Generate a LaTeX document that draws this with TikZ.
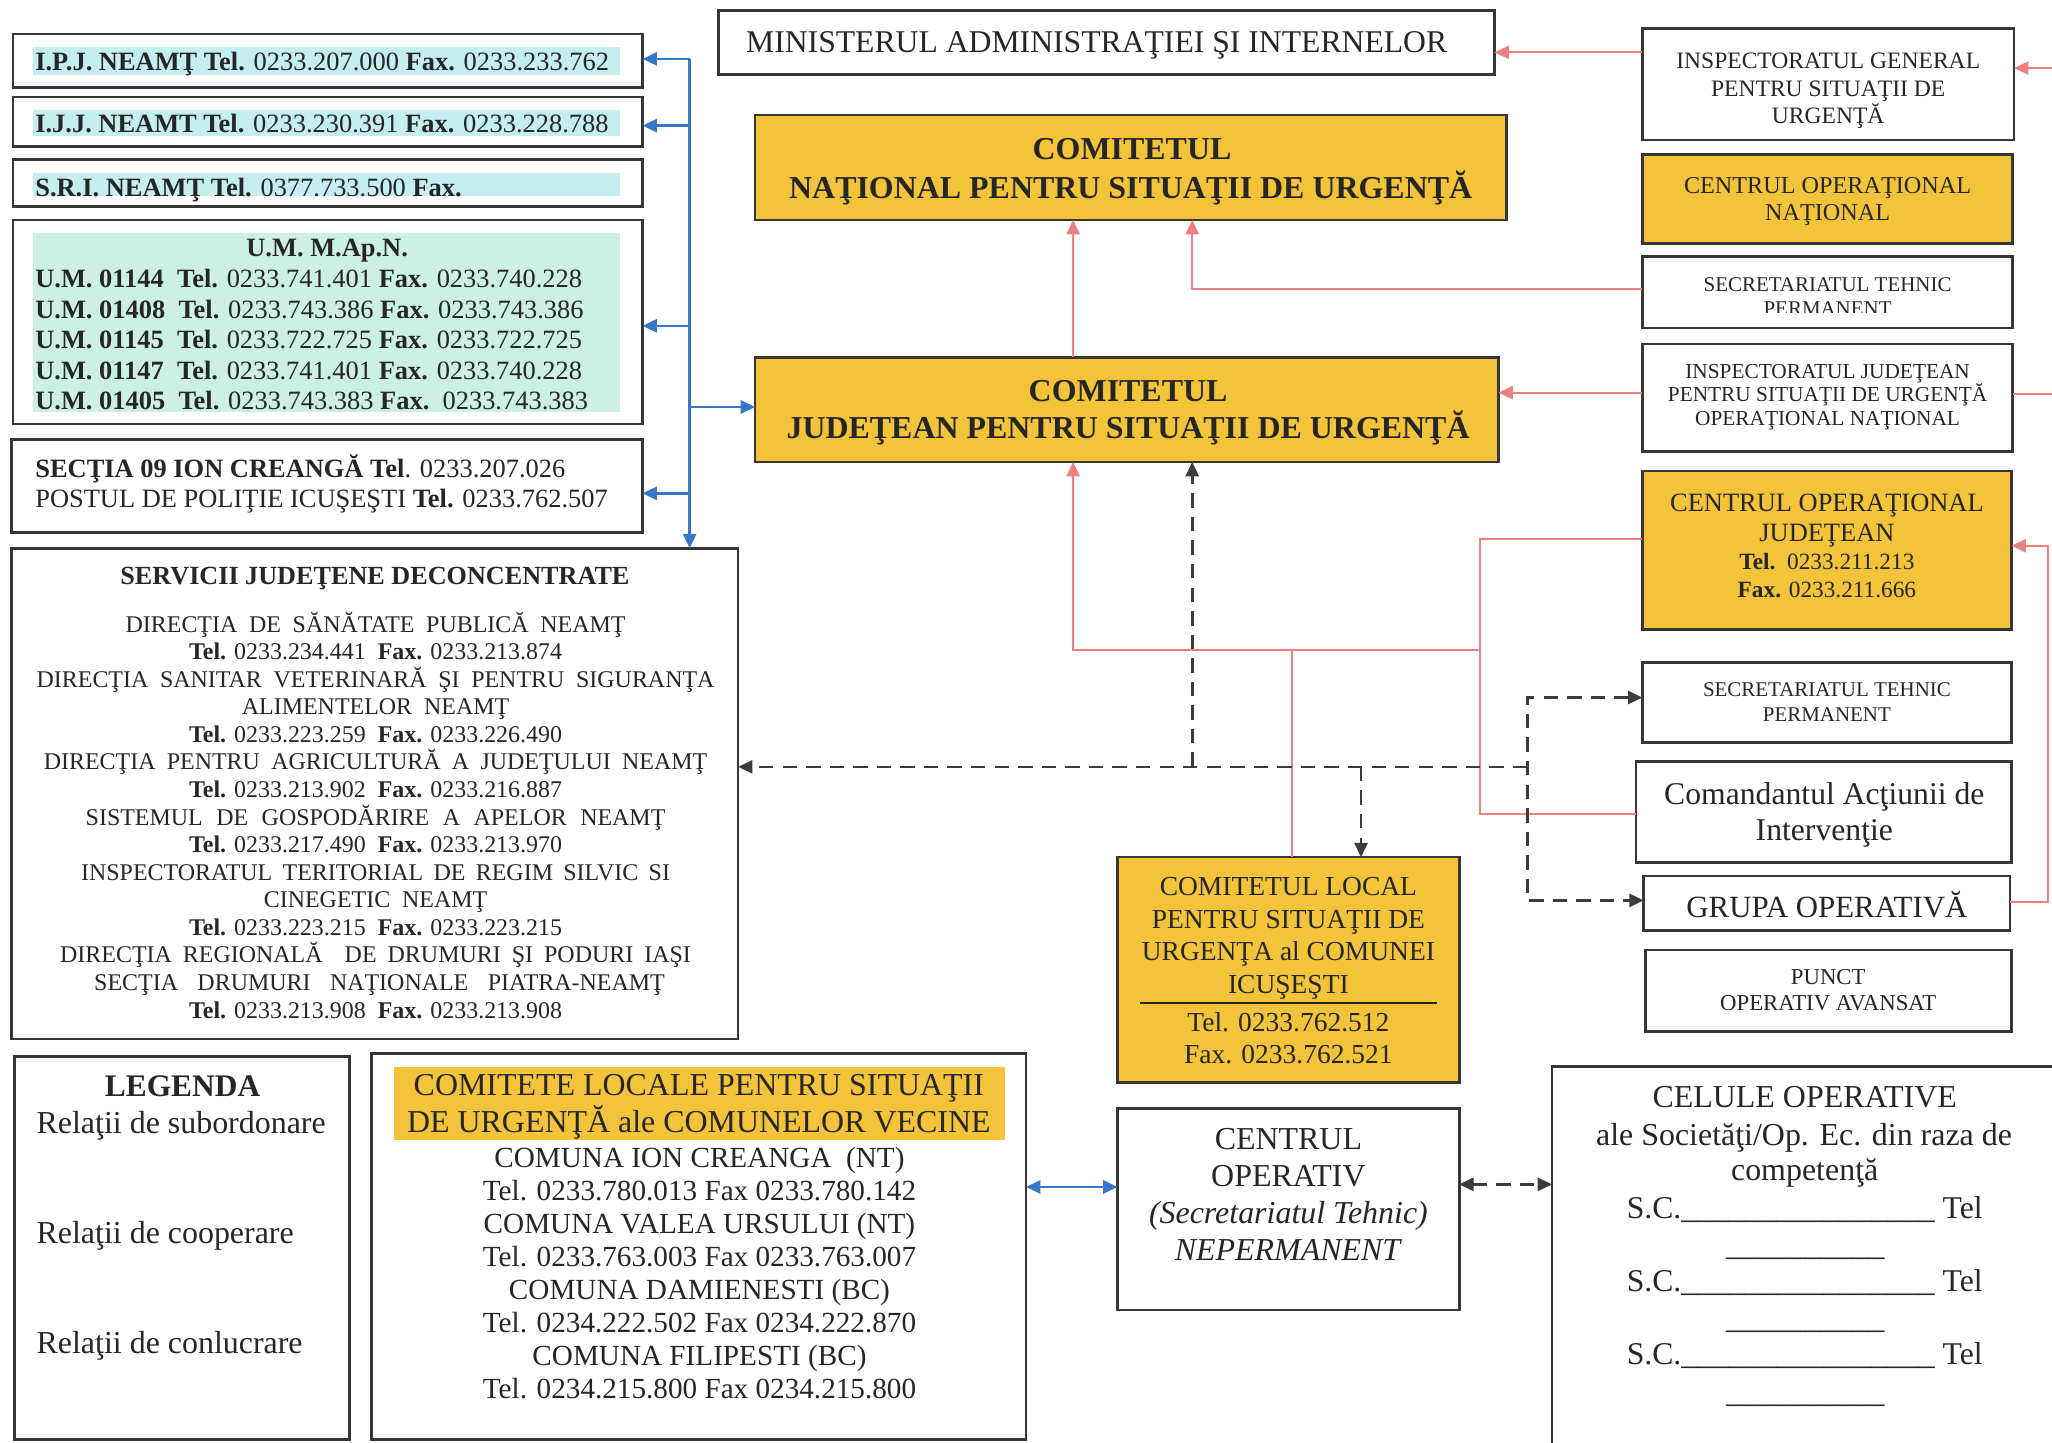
\documentclass[tikz,border=0pt]{standalone}
\usepackage{fontspec}
\setmainfont{Liberation Serif}
\usetikzlibrary{arrows.meta}
\definecolor{yel}{RGB}{243,195,58}
\definecolor{cyanhl}{RGB}{196,238,240}
\definecolor{umhl}{RGB}{204,240,228}
\definecolor{redc}{RGB}{238,128,130}
\definecolor{bluec}{RGB}{58,118,200}
\definecolor{dashc}{RGB}{60,60,60}
\definecolor{txtc}{RGB}{38,38,38}
\definecolor{bordc}{RGB}{55,55,55}
\newcommand\fs[1]{\fontsize{#1}{#1}\selectfont}
\newcommand\tline[4][]{\node[tl,#1] (#2) at (#3) {#4};}
\newcommand\boxn[6][]{\node[box,#1,minimum width={(#5-#3)*1pt},minimum height={(#6-#4)*1pt}] (#2) at ({(#3+#5)/2},{(#4+#6)/2}) {};}
\newcommand\usc{\_\_\_\_\_\_\_\_\_\_}
\begin{document}
\begin{tikzpicture}[x=1pt,y=-1pt,
  box/.style={draw=bordc,line width=2pt,inner sep=0pt,outer sep=0pt},
  ybox/.style={fill=yel},
  tl/.style={anchor=base,inner sep=0pt,outer sep=0pt,text=txtc},
  leftal/.style={anchor=base west},
  >={Triangle[length=11pt,width=10pt]},
  rl/.style={draw=redc,line width=1.6pt},
  bl/.style={draw=bluec,line width=2pt},
  dl/.style={draw=dashc,line width=2pt,dash pattern=on 11pt off 7pt}]
\useasboundingbox (0,0) rectangle (1568,1102);
\clip (0,0) rectangle (1568,1102);
\fill[white] (0,0) rectangle (1568,1102);

% highlights
\fill[cyanhl] (25,36) rectangle (474,57);
\fill[cyanhl] (25,84) rectangle (474,104);
\fill[cyanhl] (25,132) rectangle (474,150);
\fill[umhl] (25,178) rectangle (474,315);
\fill[yel] (301,815) rectangle (768,871);

% boxes
\boxn{ipj}{10}{26}{491}{67}
\boxn{ijj}{10}{74}{491}{112}
\boxn{sri}{10}{122}{491}{158}
\boxn{um}{10}{168}{491}{324}
\boxn{sec}{9}{336}{491}{407}
\boxn{serv}{9}{419}{564}{794}
\boxn{minb}{549}{8}{1142}{57}
\boxn[ybox]{cnsu}{577}{88}{1151}{168}
\boxn[ybox]{cjsu}{577}{273}{1145}{353}
\boxn{igsu}{1255}{22}{1539}{107}
\boxn[ybox]{con}{1255}{118}{1538}{186}
\boxn{stpa}{1255}{196}{1538}{250.5}
\boxn{ijsu}{1255}{263}{1538}{345}
\boxn[ybox]{coj}{1255}{360}{1537}{481}
\boxn{stpb}{1255}{506}{1537}{567.5}
\boxn{cmd}{1250}{582}{1537}{659}
\boxn{go}{1256}{669.5}{1536}{711}
\boxn{poa}{1257.5}{726}{1537}{788}
\boxn[ybox]{cl}{854}{655}{1115}{827}
\boxn{co}{854}{847}{1115}{1001}
\boxn{cel}{1186}{815}{1640}{1150}
\boxn{leg}{11}{807.5}{267}{1100}
\boxn{com}{284}{805}{784}{1100}

% left column texts
\tline[leftal,font=\fs{20.2}]{ipjt}{27,54}{\textbf{I.P.J. NEAMŢ Tel.} 0233.207.000 \textbf{Fax.} 0233.233.762}
\tline[leftal,font=\fs{20.2}]{ijjt}{27,101}{\textbf{I.J.J. NEAMT Tel.} 0233.230.391 \textbf{Fax.} 0233.228.788}
\tline[leftal,font=\fs{20.2}]{srit}{27,150}{\textbf{S.R.I. NEAMŢ Tel.} 0377.733.500 \textbf{Fax.}}
\tline[font=\fs{20.2}]{umt}{250,196}{\textbf{U.M. M.Ap.N.}}
\tline[leftal,font=\fs{20.2}]{uma}{27,219.5}{\textbf{U.M. 01144}\ \ \textbf{Tel.} 0233.741.401 \textbf{Fax.} 0233.740.228}
\tline[leftal,font=\fs{20.2}]{umb}{27,243}{\textbf{U.M. 01408}\ \ \textbf{Tel.} 0233.743.386 \textbf{Fax.} 0233.743.386}
\tline[leftal,font=\fs{20.2}]{umc}{27,266.5}{\textbf{U.M. 01145}\ \ \textbf{Tel.} 0233.722.725 \textbf{Fax.} 0233.722.725}
\tline[leftal,font=\fs{20.2}]{umd}{27,290}{\textbf{U.M. 01147}\ \ \textbf{Tel.} 0233.741.401 \textbf{Fax.} 0233.740.228}
\tline[leftal,font=\fs{20.2}]{ume}{27,313}{\textbf{U.M. 01405}\ \ \textbf{Tel.} 0233.743.383 \textbf{Fax.}\ \ 0233.743.383}
\tline[leftal,font=\fs{20.2}]{seca}{27,364.5}{\textbf{SECŢIA 09 ION CREANGĂ Tel}. 0233.207.026}
\tline[leftal,font=\fs{20.2}]{secb}{27,388}{POSTUL DE POLIŢIE ICUŞEŞTI \textbf{Tel.} 0233.762.507}

% servicii
\tline[font=\fs{20}]{servt}{286.5,447}{\textbf{SERVICII JUDEŢENE DECONCENTRATE}}
\tline[font=\fs{18.3}]{sva}{287,483}{\makebox[382pt][s]{DIRECŢIA DE SĂNĂTATE PUBLICĂ NEAMŢ}}
\tline[font=\fs{18.3}]{svb}{287,504}{\textbf{Tel.} 0233.234.441\ \ \textbf{Fax.} 0233.213.874}
\tline[font=\fs{18.3}]{svc}{287,525}{\makebox[518pt][s]{DIRECŢIA SANITAR VETERINARĂ ŞI PENTRU SIGURANŢA}}
\tline[font=\fs{18.3}]{svd}{287,546}{ALIMENTELOR \ NEAMŢ}
\tline[font=\fs{18.3}]{sve}{287,567}{\textbf{Tel.} 0233.223.259\ \ \textbf{Fax.} 0233.226.490}
\tline[font=\fs{18.3}]{svf}{287,588}{\makebox[507pt][s]{DIRECŢIA PENTRU AGRICULTURĂ A JUDEŢULUI NEAMŢ}}
\tline[font=\fs{18.3}]{svg}{287,609.4}{\textbf{Tel.} 0233.213.902\ \ \textbf{Fax.} 0233.216.887}
\tline[font=\fs{18.3}]{svh}{287,630.5}{\makebox[443pt][s]{SISTEMUL DE GOSPODĂRIRE A APELOR NEAMŢ}}
\tline[font=\fs{18.3}]{svi}{287,651.6}{\textbf{Tel.} 0233.217.490\ \ \textbf{Fax.} 0233.213.970}
\tline[font=\fs{18.3}]{svj}{287,672.6}{\makebox[450pt][s]{INSPECTORATUL TERITORIAL DE REGIM SILVIC SI}}
\tline[font=\fs{18.3}]{svk}{287,693.7}{CINEGETIC \ NEAMŢ}
\tline[font=\fs{18.3}]{svl}{287,714.8}{\textbf{Tel.} 0233.223.215\ \ \textbf{Fax.} 0233.223.215}
\tline[font=\fs{18.3}]{svm}{287,735.8}{\makebox[482pt][s]{DIRECŢIA REGIONALĂ \ DE DRUMURI ŞI PODURI IAŞI}}
\tline[font=\fs{18.3}]{svn}{290,756.9}{\makebox[436pt][s]{SECŢIA DRUMURI NAŢIONALE PIATRA-NEAMŢ}}
\tline[font=\fs{18.3}]{svo}{287,778}{\textbf{Tel.} 0233.213.908\ \ \textbf{Fax.} 0233.213.908}

% middle
\tline[font=\fs{24.2}]{mint}{838,40.5}{MINISTERUL ADMINISTRAŢIEI ŞI INTERNELOR}
\tline[font=\fs{24.4}]{cnsua}{865,122}{\textbf{COMITETUL}}
\tline[font=\fs{24.4}]{cnsub}{864,152}{\textbf{NAŢIONAL PENTRU SITUAŢII DE URGENŢĂ}}
\tline[font=\fs{24.4}]{cjsua}{862,307}{\textbf{COMITETUL}}
\tline[font=\fs{24.4}]{cjsub}{862,335}{\textbf{JUDEŢEAN PENTRU SITUAŢII DE URGENŢĂ}}

% right column
\tline[font=\fs{18}]{igsua}{1397,52}{INSPECTORATUL GENERAL}
\tline[font=\fs{18}]{igsub}{1397,73.5}{PENTRU SITUAŢII DE}
\tline[font=\fs{18}]{igsuc}{1397,94}{URGENŢĂ}
\tline[font=\fs{18.5}]{cona}{1396.5,147.5}{CENTRUL OPERAŢIONAL}
\tline[font=\fs{18.5}]{conb}{1396.5,168.5}{NAŢIONAL}
\tline[font=\fs{16}]{stpaa}{1396.5,222.5}{SECRETARIATUL TEHNIC}
\begin{scope}
\clip (1256,197) rectangle (1537,239);
\tline[font=\fs{16}]{stpab}{1396.5,241}{PERMANENT}
\end{scope}
\tline[font=\fs{16.3}]{ijsua}{1396.5,289}{INSPECTORATUL JUDEŢEAN}
\tline[font=\fs{16.3}]{ijsub}{1396.5,307}{PENTRU SITUAŢII DE URGENŢĂ}
\tline[font=\fs{16.3}]{ijsuc}{1396.5,325.5}{OPERAŢIONAL NAŢIONAL}
\tline[font=\fs{20.2}]{coja}{1396,391}{CENTRUL OPERAŢIONAL}
\tline[font=\fs{20.2}]{cojb}{1396,414}{JUDEŢEAN}
\tline[font=\fs{17.8}]{cojc}{1396,435}{\textbf{Tel.}\ \ 0233.211.213}
\tline[font=\fs{17.8}]{cojd}{1396,456.5}{\textbf{Fax.} 0233.211.666}
\tline[font=\fs{16}]{stpba}{1396,532.5}{SECRETARIATUL TEHNIC}
\tline[font=\fs{16}]{stpbb}{1396,551}{PERMANENT}
\tline[font=\fs{24.2}]{cmda}{1394,614.5}{Comandantul Acţiunii de}
\tline[font=\fs{24.2}]{cmdb}{1394,642}{Intervenţie}
\tline[font=\fs{23.6}]{got}{1396,701}{GRUPA OPERATIVĂ}
\tline[font=\fs{17.4}]{poaa}{1397,752}{PUNCT}
\tline[font=\fs{17.4}]{poab}{1397,772.5}{OPERATIV AVANSAT}

% comitetul local
\tline[font=\fs{21}]{cla}{984.5,684.5}{COMITETUL LOCAL}
\tline[font=\fs{21}]{clb}{984.5,709.5}{PENTRU SITUAŢII DE}
\tline[font=\fs{21}]{clc}{984.5,734}{URGENŢA al COMUNEI}
\tline[font=\fs{21}]{cld}{984.5,759}{ICUŞEŞTI}
\draw[draw=txtc,line width=1.8pt] (871,766.5) -- (1098,766.5);
\tline[font=\fs{21}]{cle}{984.5,788}{Tel. 0233.762.512}
\tline[font=\fs{21}]{clf}{984.5,812.5}{Fax. 0233.762.521}

% centrul operativ
\tline[font=\fs{24.4}]{coa}{984.5,878.7}{CENTRUL}
\tline[font=\fs{24.4}]{cob}{984.5,907}{OPERATIV}
\tline[font=\fs{24.4}]{coc}{984.5,935}{\textit{(Secretariatul Tehnic)}}
\tline[font=\fs{24.4}]{cod}{984.5,963}{\textit{NEPERMANENT}}

% celule operative
\tline[font=\fs{24.4}]{cela}{1379,846}{CELULE OPERATIVE}
\tline[font=\fs{24.4}]{celb}{1378.5,875}{ale Societăţi/Op. Ec. din raza de}
\tline[font=\fs{24.4}]{celc}{1379,902}{competenţă}
\tline[font=\fs{24.2}]{celd}{1379,931}{S.C.\usc\_\_\_\_\_\_ Tel}
\tline[font=\fs{24.2}]{cele}{1379.5,959.5}{\usc}
\tline[font=\fs{24.2}]{celf}{1379,987}{S.C.\usc\_\_\_\_\_\_ Tel}
\tline[font=\fs{24.2}]{celg}{1379.5,1015.5}{\usc}
\tline[font=\fs{24.2}]{celh}{1379,1043}{S.C.\usc\_\_\_\_\_\_ Tel}
\tline[font=\fs{24.2}]{celi}{1379.5,1072}{\usc}

% legenda
\tline[font=\fs{24}]{lega}{139.5,838}{\textbf{LEGENDA}}
\tline[leftal,font=\fs{24.4}]{legb}{28,866}{Relaţii de subordonare}
\tline[leftal,font=\fs{24.4}]{legc}{28,950}{Relaţii de cooperare}
\tline[leftal,font=\fs{24.4}]{legd}{28,1034}{Relaţii de conlucrare}

% comitete locale vecine
\tline[font=\fs{24.4}]{coma}{534,837}{COMITETE LOCALE PENTRU SITUAŢII}
\tline[font=\fs{24.4}]{comb}{534,865}{DE URGENŢĂ ale COMUNELOR VECINE}
\tline[font=\fs{22.3}]{comc}{534.5,892}{COMUNA ION CREANGA\ \ (NT)}
\tline[font=\fs{22.3}]{comd}{534.5,917}{Tel. 0233.780.013 Fax 0233.780.142}
\tline[font=\fs{22.3}]{come}{534.5,942.5}{COMUNA VALEA URSULUI (NT)}
\tline[font=\fs{22.3}]{comf}{534.5,968}{Tel. 0233.763.003 Fax 0233.763.007}
\tline[font=\fs{22.3}]{comg}{534.5,993}{COMUNA DAMIENESTI (BC)}
\tline[font=\fs{22.3}]{comh}{534.5,1018}{Tel. 0234.222.502 Fax 0234.222.870}
\tline[font=\fs{22.3}]{comi}{534.5,1043.5}{COMUNA FILIPESTI (BC)}
\tline[font=\fs{22.3}]{comj}{534.5,1069}{Tel. 0234.215.800 Fax 0234.215.800}

% connector coordinates
\coordinate (bA) at (527,45);
\coordinate (bB) at (527,96);
\coordinate (bC) at (527,249);
\coordinate (bD) at (527,311);
\coordinate (bE) at (527,377);
\coordinate (lvMin) at (0,40);
\coordinate (lvIg) at (1568,52);
\coordinate (rA) at (820,0);
\coordinate (rB) at (911,221);
\coordinate (lvIj) at (0,300);
\coordinate (rIj) at (1568,301);
\coordinate (rC) at (1565,417);
\coordinate (rD) at (1565,689);
\coordinate (jA) at (1131,412);
\coordinate (jB) at (1131,622);
\coordinate (jC) at (1131,497);
\coordinate (jD) at (820,497);
\coordinate (jE) at (987,497);
\coordinate (dA) at (911,586);
\coordinate (dB) at (1167,586);
\coordinate (dC) at (1040,586);
\coordinate (dD) at (1167,533);
\coordinate (dE) at (1167,688);
\coordinate (lvB) at (0,907);
\coordinate (lvD) at (0,905);

% blue connectors
\draw[bl,->] (bA) -- (bA |- serv.north);
\draw[bl,->] (bA) -- (ipj.east |- bA);
\draw[bl,->] (bB) -- (ijj.east |- bB);
\draw[bl,->] (bC) -- (um.east |- bC);
\draw[bl,->] (bD) -- (cjsu.west |- bD);
\draw[bl,->] (bE) -- (sec.east |- bE);
\draw[bl,<->] (com.east |- lvB) -- (co.west |- lvB);

% red connectors
\draw[rl,->] (cjsu.north -| rA) -- (cnsu.south -| rA);
\draw[rl,->] (stpa.west |- rB) -- (rB) -- (cnsu.south -| rB);
\draw[rl,->] (igsu.west |- lvMin) -- (minb.east |- lvMin);
\draw[rl,->] (lvIg) -- (igsu.east |- lvIg);
\draw[rl,->] (ijsu.west |- lvIj) -- (cjsu.east |- lvIj);
\draw[rl] (ijsu.east |- rIj) -- (rIj);
\draw[rl,->] (go.east |- rD) -- (rD) -- (rC) -- (coj.east |- rC);
\draw[rl] (coj.west |- jA) -- (jA) -- (jB) -- (cmd.west |- jB);
\draw[rl,->] (jC) -- (jD) -- (cjsu.south -| jD);
\draw[rl] (jE) -- (cl.north -| jE);

% dashed connectors
\draw[dl,->] (dA) -- (cjsu.south -| dA);
\draw[dl,->] (dB) -- (serv.east |- dB);
\draw[dl,->] (dC) -- (cl.north -| dC);
\draw[dl,<->] (stpb.west |- dD) -- (dD) -- (dE) -- (go.west |- dE);
\draw[dl,<->] (co.east |- lvD) -- (cel.west |- lvD);
\end{tikzpicture}
\end{document}
